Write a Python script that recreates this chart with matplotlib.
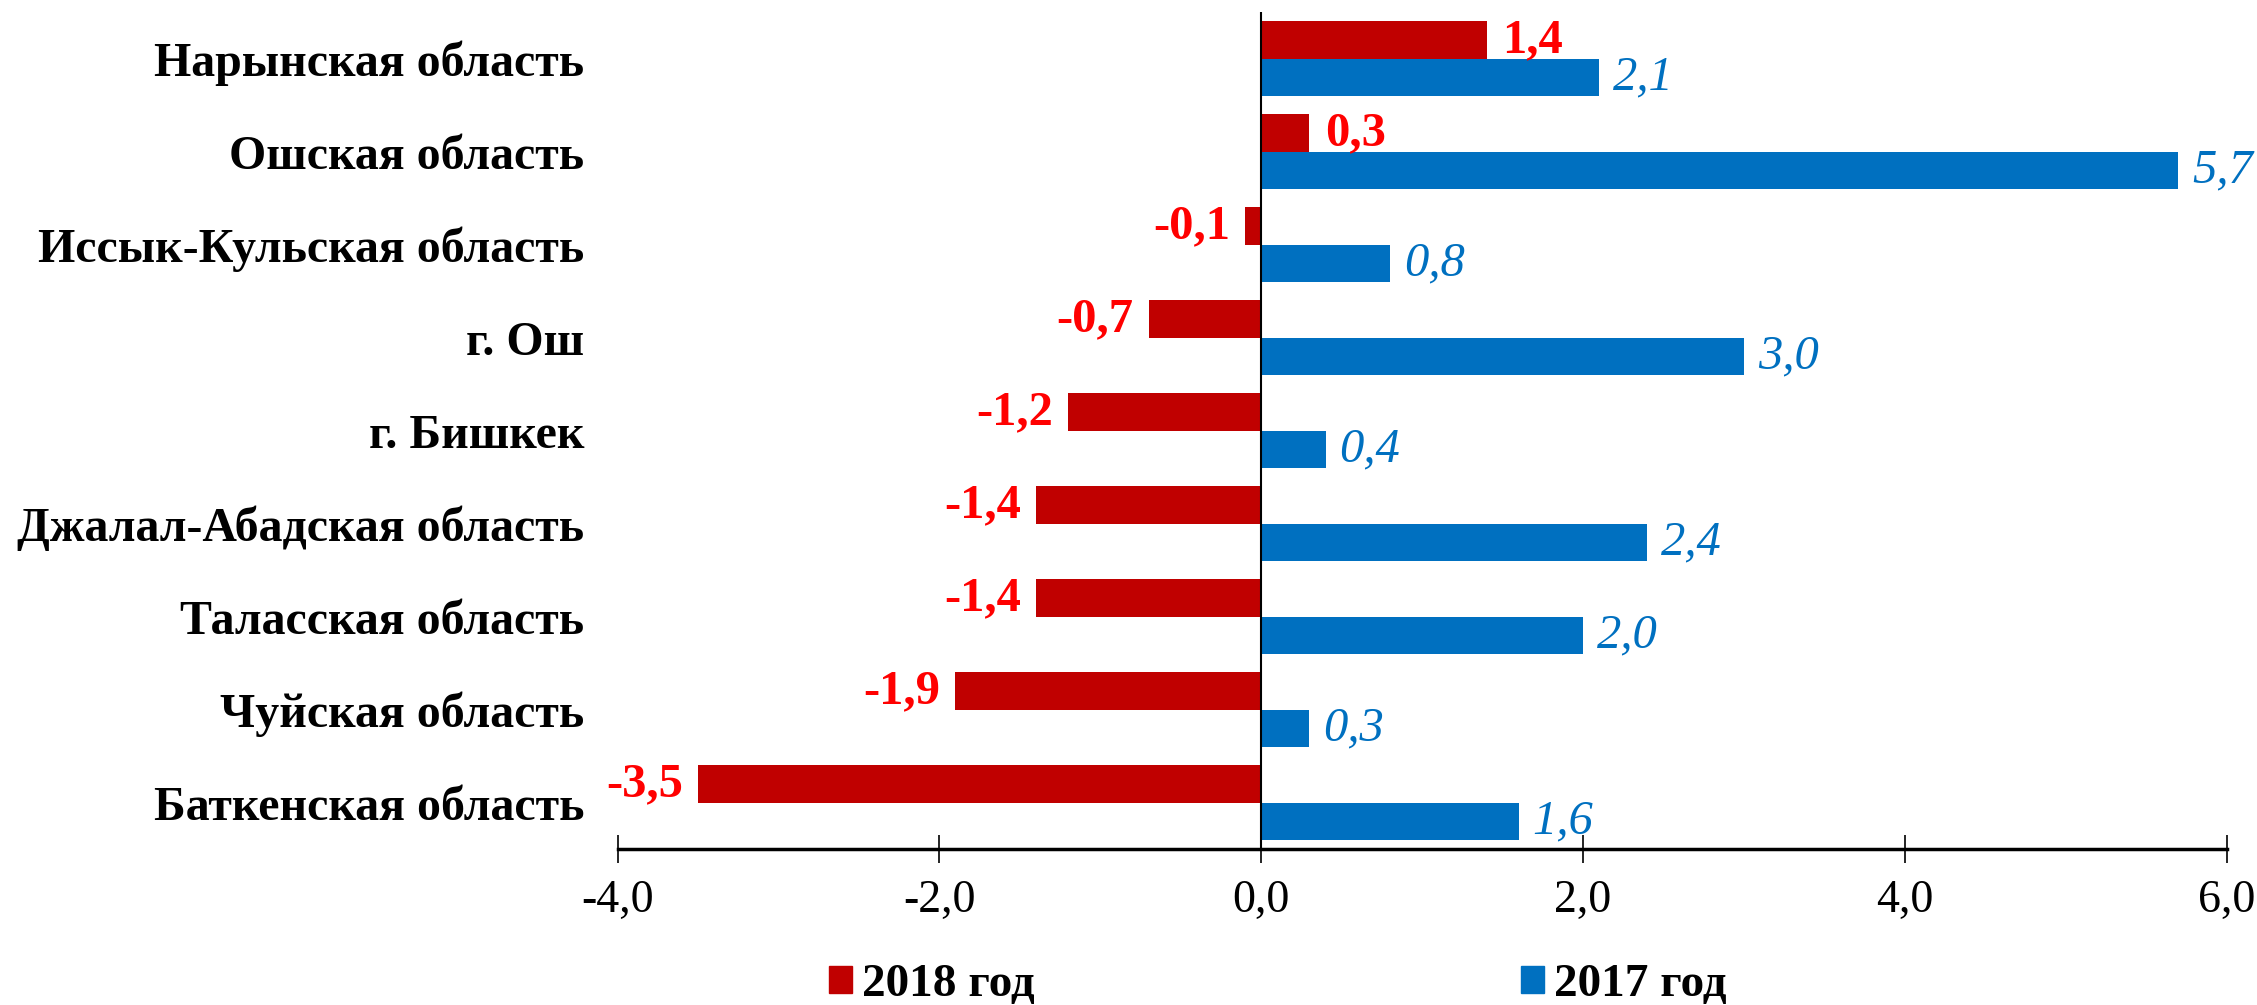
import numpy as np
import matplotlib.pyplot as plt
from matplotlib.patches import Patch

plt.rcParams['font.family'] = ['Liberation Serif', 'DejaVu Serif']

regions = ['Нарынская область', 'Ошская область', 'Иссык-Кульская область',
           'г. Ош', 'г. Бишкек', 'Джалал-Абадская область',
           'Таласская область', 'Чуйская область', 'Баткенская область']
v2018 = [1.4, 0.3, -0.1, -0.7, -1.2, -1.4, -1.4, -1.9, -3.5]
v2017 = [2.1, 5.7, 0.8, 3.0, 0.4, 2.4, 2.0, 0.3, 1.6]
xticks = [-4, -2, 0, 2, 4, 6]

red = '#C00000'
blue = '#0070C0'

def fmt(v):
    return f'{v:.1f}'.replace('.', ',')

fig = plt.figure(figsize=(22.57, 10.05), dpi=100)
ax = fig.add_axes([0.2736, 0.1552, 0.713, 0.8328])

y = np.arange(len(regions))
h = 0.4
b18 = ax.barh(y - h / 2, v2018, height=h, color=red, label='2018 год')
b17 = ax.barh(y + h / 2, v2017, height=h, color=blue, label='2017 год')

ax.bar_label(b18, labels=[fmt(v) for v in v2018], padding=11,
             color='#FF0000', fontsize=35, fontweight='bold')
ax.bar_label(b17, labels=[fmt(v) for v in v2017], padding=10,
             color=blue, fontsize=35, fontstyle='italic')

ax.set_ylim(len(regions) - 0.5, -0.5)
ax.set_xlim(-4, 6)
ax.set_yticks(y)
ax.set_yticklabels(regions, fontsize=34.5, fontweight='bold')
ax.tick_params(axis='y', length=0, pad=24)
ax.set_xticks(xticks)
ax.set_xticklabels([fmt(v) for v in xticks], fontsize=33)
ax.tick_params(axis='x', direction='inout', length=20, width=1.2, pad=12)

for s in ['top', 'right', 'left']:
    ax.spines[s].set_visible(False)
ax.spines['bottom'].set_linewidth(2.5)
ax.axvline(0, color='black', lw=1.5, zorder=3)

handles = [Patch(color=red, label='2018 год'), Patch(color=blue, label='2017 год')]
fig.legend(handles=handles, loc='center', bbox_to_anchor=(0.566, 0.02), ncol=2,
           frameon=False, prop={'size': 34, 'weight': 'bold'},
           handlelength=0.5, handleheight=0.5, handletextpad=0.2,
           columnspacing=10.3)

fig.savefig('out.png', dpi=100)
